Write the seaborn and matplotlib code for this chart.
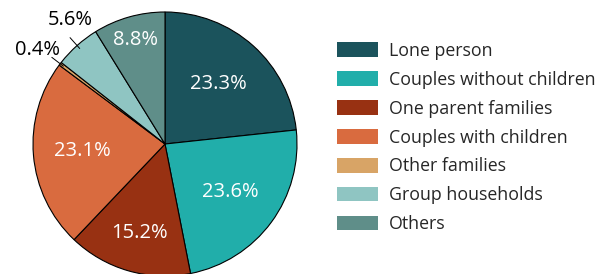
import numpy as np
import matplotlib
matplotlib.use("Agg")
import matplotlib.pyplot as plt
import seaborn as sns
from matplotlib.patches import Patch

categories = ["Lone person", "Couples without children", "One parent families",
              "Couples with children", "Other families", "Group households", "Others"]
shares = [23.3, 23.6, 15.2, 23.1, 0.4, 5.6, 8.8]
colors = ["#1b535c", "#21aeaa", "#983112", "#d96b3f", "#d8a466", "#8fc5c2", "#5f8e89"]

sns.set_theme(style="white")
plt.rcParams['font.family'] = ['Open Sans', 'DejaVu Sans']

fig = plt.figure(figsize=(6.13, 2.74), dpi=100)
W, H = 613, 274
cx, cy, r = 165, 144, 132
ax = fig.add_axes([(cx - r) / W, (H - cy - r) / H, 2 * r / W, 2 * r / H])

wedges, _ = ax.pie(shares, colors=colors, startangle=90, counterclock=False,
                   wedgeprops=dict(edgecolor="black", linewidth=0.8))
ax.set_xlim(-1, 1)
ax.set_ylim(-1, 1)
ax.set_aspect("equal")
ax.axis("off")

# label distance from centre, per slice (fraction of radius)
inside = {0: 0.61, 1: 0.61, 2: 0.70, 3: 0.63, 6: 0.82}
# outside labels: (text radius, angle tweak in degrees)
outside = {4: (1.2, 1.0), 5: (1.18, -4.5)}

for i, w in enumerate(wedges):
    mid_deg = (w.theta1 + w.theta2) / 2
    mid = np.deg2rad(mid_deg)
    c, s = np.cos(mid), np.sin(mid)
    txt = f"{shares[i]:.1f}%"
    if i in inside:
        d = inside[i]
        ax.text(d * c, d * s, txt, ha="center", va="center", color="white", fontsize=14.5)
    else:
        d, tweak = outside[i]
        ax.plot([0.97 * c, 1.08 * c], [0.97 * s, 1.08 * s], color="black", lw=0.7, clip_on=False)
        a = np.deg2rad(mid_deg + tweak)
        ax.text(d * np.cos(a), d * np.sin(a), txt, ha="center", va="center",
                color="black", fontsize=14.5)

handles = [Patch(facecolor=col, edgecolor="none") for col in colors]
fig.legend(handles, categories, loc="upper left", bbox_to_anchor=(337 / W, 1 - 42 / H),
           frameon=False, fontsize=12.8, handlelength=2.3, handleheight=0.9,
           handletextpad=0.62, labelspacing=0.61, borderpad=0, borderaxespad=0)

fig.savefig("out.png", dpi=100)
